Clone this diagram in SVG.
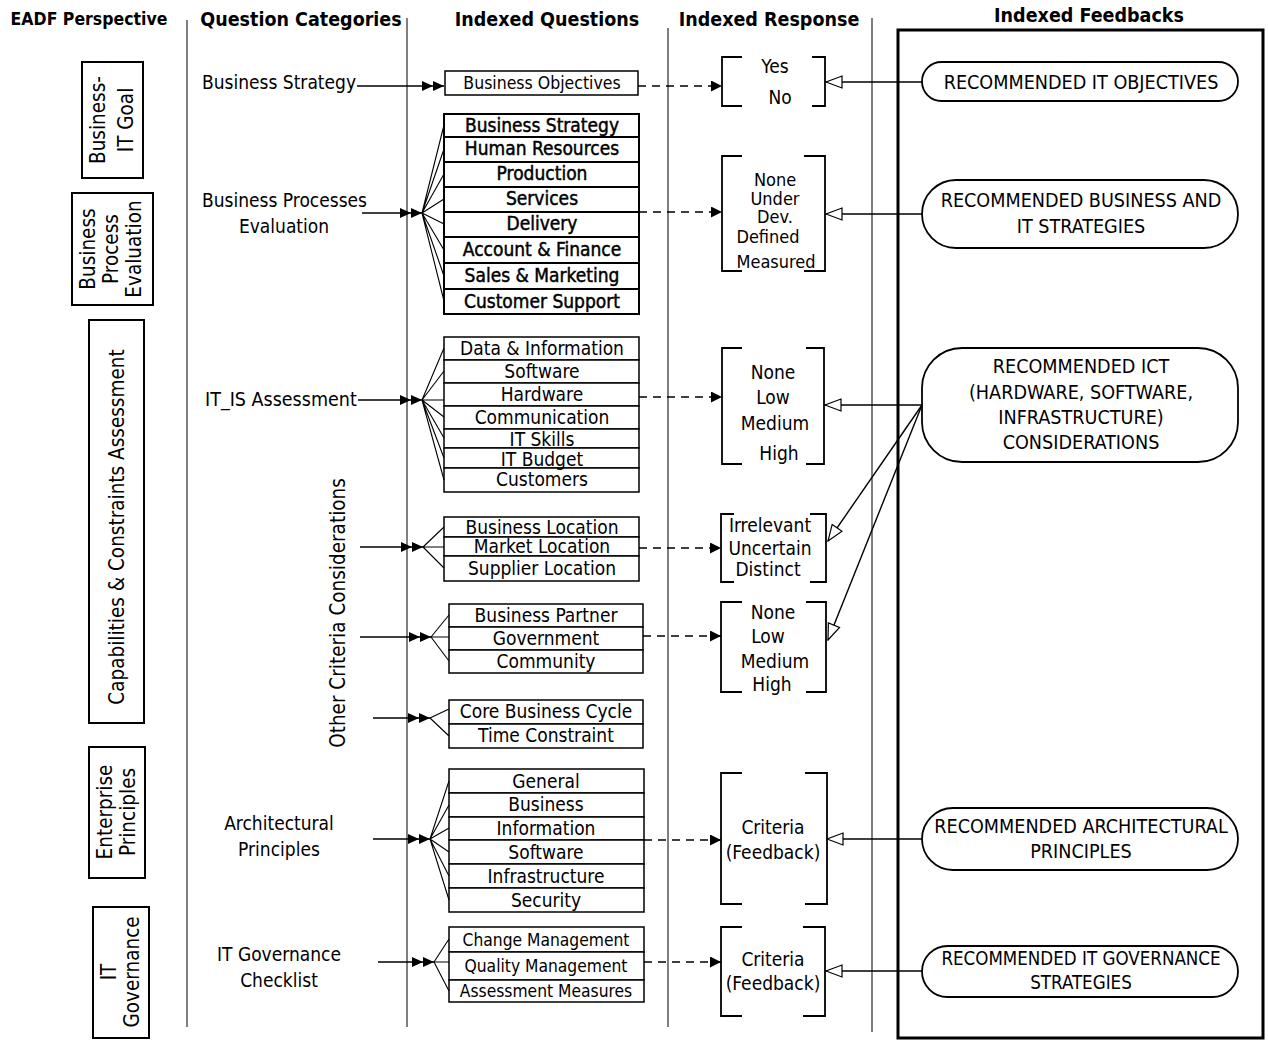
<svg xmlns="http://www.w3.org/2000/svg" width="1268" height="1041" viewBox="0 0 1268 1041">
  <style>
    text { font-family: "DejaVu Sans Condensed", "DejaVu Sans", sans-serif; font-size: 19px; fill: #000; }
    .hd { font-weight: bold; font-size: 19.5px; }
    .c { text-anchor: middle; }
    .qb { stroke: #000; stroke-width: 0.45; }
    .cap { font-size: 19.6px; }
    .rot { font-size: 20.5px; }
    .sm { font-size: 17.3px; }
    .div { stroke: #555; stroke-width: 1.5; fill: none; }
    .box { fill: #fff; stroke: #000; stroke-width: 2; }
    .row { fill: #fff; stroke: #000; stroke-width: 1.5; }
    .rowb { fill: #fff; stroke: #000; stroke-width: 2; }
    .brk { fill: none; stroke: #000; stroke-width: 1.8; }
    .ln { fill: none; stroke: #000; stroke-width: 1.4; }
    .fan { fill: none; stroke: #000; stroke-width: 1.1; }
    .dash { fill: none; stroke: #000; stroke-width: 1.4; stroke-dasharray: 8 6; }
    .fb { fill: #fff; stroke: #000; stroke-width: 1.8; }
  </style>
  <defs>
    <marker id="dbl" markerUnits="userSpaceOnUse" viewBox="0 0 22 10" markerWidth="22" markerHeight="10" refX="22" refY="5" orient="auto">
      <path d="M0,0 L11,5 L0,10 Z M11,0 L22,5 L11,10 Z" fill="#000"/>
    </marker>
    <marker id="tip" markerUnits="userSpaceOnUse" viewBox="0 0 11 11" markerWidth="11" markerHeight="11" refX="11" refY="5.5" orient="auto">
      <path d="M0,0 L11,5.5 L0,11 Z" fill="#000"/>
    </marker>
    <marker id="open" markerUnits="userSpaceOnUse" viewBox="0 0 18 14" markerWidth="18" markerHeight="14" refX="17" refY="7" orient="auto">
      <path d="M17,7 L1,1 L1,13 Z" fill="#fff" stroke="#000" stroke-width="1.2"/>
    </marker>
  </defs>

  <rect width="1268" height="1041" fill="#fff"/>

  <!-- column headers -->
  <g id="headers">
    <text class="hd c" x="89" y="25" style="font-size:17.5px">EADF Perspective</text>
    <text class="hd c" x="301" y="26">Question Categories</text>
    <text class="hd c" x="547" y="26">Indexed Questions</text>
    <text class="hd c" x="769" y="26">Indexed Response</text>
    <text class="hd c" x="1089" y="22">Indexed Feedbacks</text>
  </g>

  <!-- column dividers and feedback frame -->
  <g id="dividers">
    <line class="div" x1="187" y1="20" x2="187" y2="1027"/>
    <line class="div" x1="407" y1="18" x2="407" y2="1027"/>
    <line class="div" x1="668" y1="28" x2="668" y2="1027"/>
    <line class="div" x1="872" y1="18" x2="872" y2="1032"/>
    <rect x="898" y="30" width="365" height="1008" fill="none" stroke="#000" stroke-width="3"/>
  </g>

  <!-- EADF perspective boxes -->
  <g id="p-business-it-goal">
    <rect class="box" x="82" y="62" width="61" height="116"/>
    <g transform="translate(112,120) rotate(-90)">
      <text class="c rot" x="0" y="-7">Business-</text>
      <text class="c rot" x="0" y="21">IT Goal</text>
    </g>
  </g>
  <g id="p-business-process">
    <rect class="box" x="72" y="193" width="81" height="112"/>
    <g transform="translate(112,249) rotate(-90)">
      <text class="c rot" x="0" y="-17">Business</text>
      <text class="c rot" x="0" y="6">Process</text>
      <text class="c rot" x="0" y="29">Evaluation</text>
    </g>
  </g>
  <g id="p-capabilities">
    <rect class="box" x="89" y="320" width="55" height="403"/>
    <text class="c rot" transform="translate(117,527) rotate(-90)" y="7">Capabilities &amp; Constraints Assessment</text>
  </g>
  <g id="p-enterprise">
    <rect class="box" x="89" y="747" width="56" height="131"/>
    <g transform="translate(117,812) rotate(-90)">
      <text class="c rot" x="0" y="-5">Enterprise</text>
      <text class="c rot" x="0" y="18">Principles</text>
    </g>
  </g>
  <g id="p-it-governance">
    <rect class="box" x="93" y="907" width="56" height="131"/>
    <g transform="translate(121,972) rotate(-90)">
      <text class="c rot" x="0" y="-5">IT</text>
      <text class="c rot" x="0" y="18">Governance</text>
    </g>
  </g>

  <!-- question categories -->
  <g id="cat-business-strategy"><text x="202" y="89">Business Strategy</text></g>
  <g id="cat-business-processes">
    <text x="202" y="207">Business Processes</text>
    <text class="c" x="284" y="233">Evaluation</text>
  </g>
  <g id="cat-it-is"><text x="205" y="406" style="font-size:19.5px">IT_IS Assessment</text></g>
  <g id="cat-other"><text class="c rot" transform="translate(338,613) rotate(-90)" y="7">Other Criteria Considerations</text></g>
  <g id="cat-architectural">
    <text class="c" x="279" y="830">Architectural</text>
    <text class="c" x="279" y="856">Principles</text>
  </g>
  <g id="cat-governance">
    <text class="c" x="279" y="961">IT Governance</text>
    <text class="c" x="279" y="987">Checklist</text>
  </g>

  <!-- indexed question lists -->
  <g id="q-objectives">
    <rect class="row" x="445" y="71" width="193" height="24"/>
    <text class="c" x="542" y="89" style="font-size:17.5px">Business Objectives</text>
  </g>
  <g id="q-business-areas">
    <rect class="rowb" x="444" y="114" width="195" height="23"/>
    <rect class="rowb" x="444" y="137" width="195" height="25"/>
    <rect class="rowb" x="444" y="162" width="195" height="25"/>
    <rect class="rowb" x="444" y="187" width="195" height="25"/>
    <rect class="rowb" x="444" y="212" width="195" height="25"/>
    <rect class="rowb" x="444" y="237" width="195" height="26"/>
    <rect class="rowb" x="444" y="263" width="195" height="26"/>
    <rect class="rowb" x="444" y="289" width="195" height="25"/>
    <text class="c qb" x="542" y="132">Business Strategy</text>
    <text class="c qb" x="542" y="155">Human Resources</text>
    <text class="c qb" x="542" y="180">Production</text>
    <text class="c qb" x="542" y="205">Services</text>
    <text class="c qb" x="542" y="230">Delivery</text>
    <text class="c qb" x="542" y="256">Account &amp; Finance</text>
    <text class="c qb" x="542" y="282">Sales &amp; Marketing</text>
    <text class="c qb" x="542" y="308">Customer Support</text>
  </g>
  <g id="q-it-is">
    <rect class="row" x="444" y="337" width="195" height="23"/>
    <rect class="row" x="444" y="360" width="195" height="23"/>
    <rect class="row" x="444" y="383" width="195" height="23"/>
    <rect class="row" x="444" y="406" width="195" height="23"/>
    <rect class="row" x="444" y="429" width="195" height="19"/>
    <rect class="row" x="444" y="448" width="195" height="20"/>
    <rect class="row" x="444" y="468" width="195" height="24"/>
    <text class="c" x="542" y="355">Data &amp; Information</text>
    <text class="c" x="542" y="378">Software</text>
    <text class="c" x="542" y="401">Hardware</text>
    <text class="c" x="542" y="424">Communication</text>
    <text class="c" x="542" y="446">IT Skills</text>
    <text class="c" x="542" y="466">IT Budget</text>
    <text class="c" x="542" y="486">Customers</text>
  </g>
  <g id="q-location">
    <rect class="row" x="444" y="517" width="195" height="20"/>
    <rect class="row" x="444" y="537" width="195" height="19"/>
    <rect class="row" x="444" y="556" width="195" height="25"/>
    <text class="c" x="542" y="534">Business Location</text>
    <text class="c" x="542" y="553">Market Location</text>
    <text class="c" x="542" y="575">Supplier Location</text>
  </g>
  <g id="q-partners">
    <rect class="row" x="449" y="604" width="194" height="23"/>
    <rect class="row" x="449" y="627" width="194" height="23"/>
    <rect class="row" x="449" y="650" width="194" height="23"/>
    <text class="c" x="546" y="622">Business Partner</text>
    <text class="c" x="546" y="645">Government</text>
    <text class="c" x="546" y="668">Community</text>
  </g>
  <g id="q-cycle">
    <rect class="row" x="449" y="700" width="194" height="24"/>
    <rect class="row" x="449" y="724" width="194" height="24"/>
    <text class="c" x="546" y="718">Core Business Cycle</text>
    <text class="c" x="546" y="742">Time Constraint</text>
  </g>
  <g id="q-architecture">
    <rect class="row" x="449" y="769" width="195" height="24"/>
    <rect class="row" x="449" y="793" width="195" height="24"/>
    <rect class="row" x="449" y="817" width="195" height="23"/>
    <rect class="row" x="449" y="840" width="195" height="24"/>
    <rect class="row" x="449" y="864" width="195" height="24"/>
    <rect class="row" x="449" y="888" width="195" height="24"/>
    <text class="c" x="546" y="788">General</text>
    <text class="c" x="546" y="811">Business</text>
    <text class="c" x="546" y="835">Information</text>
    <text class="c" x="546" y="859">Software</text>
    <text class="c" x="546" y="883">Infrastructure</text>
    <text class="c" x="546" y="907">Security</text>
  </g>
  <g id="q-governance">
    <rect class="row" x="449" y="927" width="195" height="25"/>
    <rect class="row" x="449" y="952" width="195" height="28"/>
    <rect class="row" x="449" y="980" width="195" height="22"/>
    <text class="c sm" x="546" y="946">Change Management</text>
    <text class="c sm" x="546" y="972">Quality Management</text>
    <text class="c sm" x="546" y="997">Assessment Measures</text>
  </g>

  <!-- indexed responses (bracketed scales) -->
  <g id="r-yes-no">
    <path class="brk" d="M742,57 H722 V106 H742 M812,57 H825 V106 H812"/>
    <text class="c" x="775" y="73">Yes</text>
    <text class="c" x="780" y="104">No</text>
  </g>
  <g id="r-maturity">
    <path class="brk" d="M742,156 H722 V271 H742 M804,156 H825 V271 H804"/>
    <text class="c" x="775" y="186" style="font-size:18px">None</text>
    <text class="c" x="775" y="205" style="font-size:18px">Under</text>
    <text class="c" x="775" y="223" style="font-size:18px">Dev.</text>
    <text class="c" x="768" y="243" style="font-size:18px">Defined</text>
    <text class="c" x="776" y="268" style="font-size:18px">Measured</text>
  </g>
  <g id="r-level-it">
    <path class="brk" d="M742,348 H722 V464 H742 M806,348 H824 V464 H806"/>
    <text class="c" x="773" y="379">None</text>
    <text class="c" x="773" y="404">Low</text>
    <text class="c" x="775" y="430">Medium</text>
    <text class="c" x="779" y="460">High</text>
  </g>
  <g id="r-relevance">
    <path class="brk" d="M734,514 H721 V582 H734 M810,514 H826 V582 H810"/>
    <text class="c" x="770" y="532">Irrelevant</text>
    <text class="c" x="770" y="555">Uncertain</text>
    <text class="c" x="768" y="576">Distinct</text>
  </g>
  <g id="r-level-partner">
    <path class="brk" d="M742,602 H721 V692 H742 M806,602 H826 V692 H806"/>
    <text class="c" x="773" y="619">None</text>
    <text class="c" x="768" y="643">Low</text>
    <text class="c" x="775" y="668">Medium</text>
    <text class="c" x="772" y="691">High</text>
  </g>
  <g id="r-criteria-arch">
    <path class="brk" d="M742,773 H721 V904 H742 M805,773 H827 V904 H805"/>
    <text class="c" x="773" y="834">Criteria</text>
    <text class="c" x="773" y="859">(Feedback)</text>
  </g>
  <g id="r-criteria-gov">
    <path class="brk" d="M742,927 H721 V1016 H742 M803,927 H825 V1016 H803"/>
    <text class="c" x="773" y="966">Criteria</text>
    <text class="c" x="773" y="990">(Feedback)</text>
  </g>

  <!-- indexed feedbacks -->
  <g id="f-it-objectives">
    <rect class="fb" x="922" y="62" width="316" height="39" rx="19.5"/>
    <text class="c cap" x="1081" y="89">RECOMMENDED IT OBJECTIVES</text>
  </g>
  <g id="f-strategies">
    <rect class="fb" x="922" y="180" width="316" height="68" rx="34"/>
    <text class="c cap" x="1081" y="207">RECOMMENDED BUSINESS AND</text>
    <text class="c cap" x="1081" y="233">IT STRATEGIES</text>
  </g>
  <g id="f-ict">
    <rect class="fb" x="922" y="348" width="316" height="114" rx="40"/>
    <text class="c cap" x="1081" y="373">RECOMMENDED ICT</text>
    <text class="c cap" x="1081" y="399">(HARDWARE, SOFTWARE,</text>
    <text class="c cap" x="1081" y="424">INFRASTRUCTURE)</text>
    <text class="c cap" x="1081" y="449">CONSIDERATIONS</text>
  </g>
  <g id="f-architectural">
    <rect class="fb" x="922" y="808" width="316" height="62" rx="31"/>
    <text class="c cap" x="1081" y="833">RECOMMENDED ARCHITECTURAL</text>
    <text class="c cap" x="1081" y="858">PRINCIPLES</text>
  </g>
  <g id="f-governance">
    <rect class="fb" x="922" y="946" width="316" height="51" rx="25.5"/>
    <text class="c cap" x="1081" y="965" style="font-size:18.6px">RECOMMENDED IT GOVERNANCE</text>
    <text class="c cap" x="1081" y="989" style="font-size:18.6px">STRATEGIES</text>
  </g>

  <!-- connectors -->
  <g id="connectors">
    <!-- category to question lists -->
    <line class="ln" x1="357" y1="86" x2="444" y2="86" marker-end="url(#dbl)"/>
    <line class="ln" x1="362" y1="213" x2="422" y2="213" marker-end="url(#dbl)"/>
    <line class="ln" x1="358" y1="400" x2="422" y2="400" marker-end="url(#dbl)"/>
    <line class="ln" x1="360" y1="547" x2="423" y2="547" marker-end="url(#dbl)"/>
    <line class="ln" x1="360" y1="637" x2="431" y2="637" marker-end="url(#dbl)"/>
    <line class="ln" x1="373" y1="718" x2="430" y2="718" marker-end="url(#dbl)"/>
    <line class="ln" x1="373" y1="839" x2="430" y2="839" marker-end="url(#dbl)"/>
    <line class="ln" x1="378" y1="962" x2="434" y2="962" marker-end="url(#dbl)"/>

    <!-- fan-outs to each question row -->
    <path class="fan" d="M422,213 L444,125 M422,213 L444,149 M422,213 L444,174 M422,213 L444,199 M422,213 L444,224 M422,213 L444,250 M422,213 L444,276 M422,213 L444,301"/>
    <path class="fan" d="M422,400 L444,348 M422,400 L444,371 M422,400 L444,400 M422,400 L444,417 M422,400 L444,438 M422,400 L444,458 M422,400 L444,480"/>
    <path class="fan" d="M423,547 L444,527 M423,547 L444,547 M423,547 L444,568"/>
    <path class="fan" d="M431,637 L449,615 M431,637 L449,637 M431,637 L449,661"/>
    <path class="fan" d="M430,718 L449,709 M430,718 L449,736"/>
    <path class="fan" d="M430,839 L449,781 M430,839 L449,805 M430,839 L449,828 M430,839 L449,852 M430,839 L449,876 M430,839 L449,900"/>
    <path class="fan" d="M434,962 L449,939 M434,962 L449,962 M434,962 L449,991"/>

    <!-- questions to responses -->
    <line class="dash" x1="638" y1="86" x2="722" y2="86" marker-end="url(#tip)"/>
    <line class="dash" x1="639" y1="212" x2="722" y2="212" marker-end="url(#tip)"/>
    <line class="dash" x1="639" y1="397" x2="722" y2="397" marker-end="url(#tip)"/>
    <line class="dash" x1="639" y1="548" x2="721" y2="548" marker-end="url(#tip)"/>
    <line class="dash" x1="643" y1="636" x2="721" y2="636" marker-end="url(#tip)"/>
    <line class="dash" x1="644" y1="840" x2="721" y2="840" marker-end="url(#tip)"/>
    <line class="dash" x1="644" y1="962" x2="721" y2="962" marker-end="url(#tip)"/>

    <!-- feedbacks back to responses -->
    <line class="ln" x1="922" y1="82" x2="826" y2="82" marker-end="url(#open)"/>
    <line class="ln" x1="922" y1="214" x2="826" y2="214" marker-end="url(#open)"/>
    <line class="ln" x1="922" y1="405" x2="825" y2="405" marker-end="url(#open)"/>
    <line class="ln" x1="922" y1="405" x2="828" y2="541" marker-end="url(#open)"/>
    <line class="ln" x1="922" y1="405" x2="828" y2="640" marker-end="url(#open)"/>
    <line class="ln" x1="922" y1="839" x2="827" y2="839" marker-end="url(#open)"/>
    <line class="ln" x1="922" y1="971" x2="826" y2="971" marker-end="url(#open)"/>
  </g>
</svg>
